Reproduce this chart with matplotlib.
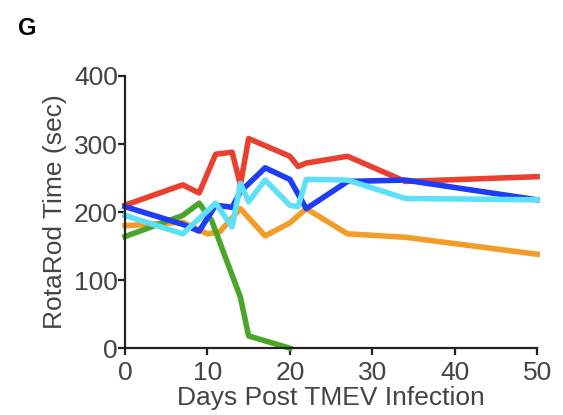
import numpy as np
import matplotlib
matplotlib.use("Agg")
from matplotlib import pyplot as plt

plt.rcParams['font.family'] = ['Liberation Sans', 'DejaVu Sans']

red_days = [0, 7, 9, 11, 13, 14, 15, 20, 21, 22, 27, 34, 50]
red_vals = [210, 240, 228, 285, 288, 240, 308, 282, 267, 272, 282, 245, 252]

blue_days = [0, 7, 9, 11, 13, 14, 17, 20, 22, 27, 34, 50]
blue_vals = [208, 182, 172, 210, 207, 230, 265, 248, 205, 245, 247, 218]

orange_days = [0, 7, 10, 11.5, 14, 17, 20, 22, 27, 34, 50]
orange_vals = [180, 185, 168, 171, 205, 165, 184, 205, 168, 163, 138]

green_days = [0, 7, 9, 10.5, 14, 15, 20]
green_vals = [164, 195, 213, 188, 75, 18, 0]

cyan_days = [0, 7, 11, 13, 14, 15, 17, 20, 21, 22, 27, 34, 50]
cyan_vals = [195, 168, 213, 178, 242, 215, 247, 210, 208, 248, 247, 220, 218]

x_ticks = [0, 10, 20, 30, 40, 50]
y_ticks = [0, 100, 200, 300, 400]

series = [
    (orange_days, orange_vals, '#f39c28'),
    (green_days, green_vals, '#4ca52a'),
    (red_days, red_vals, '#ea4030'),
    (blue_days, blue_vals, '#1e3cf5'),
    (cyan_days, cyan_vals, '#5ee0f8'),
]

fig = plt.figure(figsize=(5.63, 4.15), dpi=100)
ax = fig.add_axes([0.222, 0.161, 0.732, 0.656])

for d, v, c in series:
    ax.plot(d, v, color=c, lw=4.0, solid_joinstyle='round', clip_on=False)

ax.set_xlim(0, 50)
ax.set_ylim(0, 400)
ax.set_xticks(x_ticks)
ax.set_yticks(y_ticks)
for s in ['top', 'right']:
    ax.spines[s].set_visible(False)
for s in ['left', 'bottom']:
    ax.spines[s].set_linewidth(1.6)
    ax.spines[s].set_color('#222222')
ax.tick_params(width=1.6, length=5, labelsize=19, colors='#222222', labelcolor='#444444', pad=0)
ax.tick_params(axis='x', pad=4)

ax.set_xlabel('Days Post TMEV Infection', fontsize=19, color='#444444', labelpad=1)
ax.set_ylabel('RotaRod Time (sec)', fontsize=19, color='#444444', labelpad=5)

fig.text(0.048, 0.932, 'G', fontsize=17, fontweight='bold', ha='center', va='center')

fig.savefig('out.png', dpi=100)
